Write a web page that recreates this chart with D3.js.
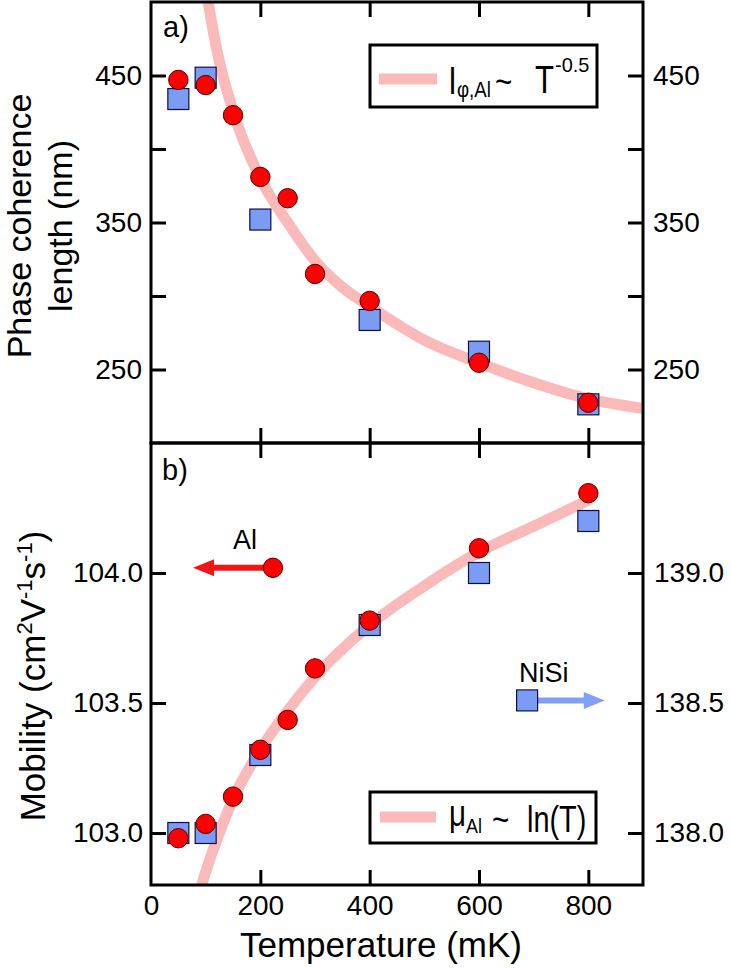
<!DOCTYPE html>
<html><head><meta charset="utf-8">
<script src="https://cdn.jsdelivr.net/npm/d3@7"></script>
<style>html,body{margin:0;padding:0;background:#fff}svg{display:block}text{font-family:Arial,"Liberation Sans",Helvetica,sans-serif}</style>
</head><body>
<svg id="chart" width="731" height="968" font-family="Arial, 'Liberation Sans', Helvetica, sans-serif"></svg>
<script>
// ---------- data ----------
const tempsAl   = [50, 100, 150, 200, 250, 300, 400, 600, 800];          // mK
const tempsNiSi = [50, 100, 200, 400, 600, 800];                          // mK
// panel a: phase coherence length (nm)
const lphiAl   = [447, 443.5, 423, 381, 366.5, 315, 296.6, 254.6, 227.4];
const lphiNiSi = [434, 448.5, 352, 283.7, 262.1, 226.3];
// panel a fit curve  l ~ T^-0.5
const fitATemps = [100, 120, 150, 200, 250, 300, 350, 400, 500, 600, 700, 800, 900];
const fitAVals  = [510, 468, 426, 380, 350, 324, 306, 293, 270, 254.5, 241, 230, 223.5];
// panel b: mobility (cm2 V-1 s-1)
const muAl   = [102.98, 103.035, 103.14, 103.32, 103.435, 103.633, 103.817, 104.095, 104.307]; // left axis
const muNiSi = [138.0, 138.0, 138.3, 138.8, 139.0, 139.2];                                       // right axis
// panel b fit curve  mu ~ ln(T)
const fitBTemps = [90, 100, 125, 150, 200, 250, 300, 400, 500, 600, 700, 800];
const fitBVals  = [102.78, 102.85, 103.0, 103.13, 103.32, 103.47, 103.6, 103.8, 103.95, 104.08, 104.18, 104.28];
// annotation markers (data coordinates)
const annAl   = {T: 223, v: 104.02, arrowTo: 77};     // left axis
const annNiSi = {T: 688, v: 138.51, arrowTo: 830};    // right axis
// ticks
const xTicks      = [0, 200, 400, 600, 800];
const yaTicks     = [250, 300, 350, 400, 450];
const yaLabels    = [250, 350, 450];
const ybTicks     = [103.0, 103.5, 104.0];
const ybRTicks    = [138.0, 138.5, 139.0];

// ---------- layout ----------
const L = 151, R = 643, TOPA = 2, MID = 443, BOT = 885;
const fitColor = "#fbbaba", redFill = "#ff0000", blueFill = "#7b9cf4";
const FONT = "Arial, 'Liberation Sans', Helvetica, sans-serif";
const svg = d3.select("#chart");

const x   = d3.scaleLinear().domain([0, 900]).range([L, R]);
const ya  = d3.scaleLinear().domain([200, 500]).range([MID, TOPA]);
const yb  = d3.scaleLinear().domain([102.8, 104.5]).range([BOT, MID]);
const ybR = d3.scaleLinear().domain([137.8, 139.5]).range([BOT, MID]);

const defs = svg.append("defs");
defs.append("clipPath").attr("id", "clipA").append("rect").attr("x", L).attr("y", TOPA).attr("width", R - L).attr("height", MID - TOPA);
defs.append("clipPath").attr("id", "clipB").append("rect").attr("x", L).attr("y", MID).attr("width", R - L).attr("height", BOT - MID);

function styleAxis(g, fs) {
  g.attr("font-family", FONT).attr("font-size", fs);
  g.select(".domain").remove();
  g.selectAll(".tick line").attr("stroke", "#000").attr("stroke-width", 3);
  g.selectAll(".tick text").attr("fill", "#000");
}

// ---------- axes ----------
svg.append("g").attr("transform", `translate(0,${TOPA})`)
  .call(d3.axisTop(x).tickValues(xTicks.slice(1)).tickSize(-15).tickFormat(""))
  .call(g => styleAxis(g, 28));
svg.append("g").attr("transform", `translate(0,${MID})`)
  .call(d3.axisBottom(x).tickValues(xTicks.slice(1)).tickSize(-15).tickFormat(""))
  .call(g => styleAxis(g, 28));
svg.append("g").attr("transform", `translate(0,${MID})`)
  .call(d3.axisTop(x).tickValues(xTicks.slice(1)).tickSize(-15).tickFormat(""))
  .call(g => styleAxis(g, 28));
svg.append("g").attr("transform", `translate(0,${BOT})`)
  .call(d3.axisBottom(x).tickValues(xTicks).tickSize(-15).tickPadding(10).tickFormat(d3.format("d")))
  .call(g => styleAxis(g, 28))
  .call(g => g.selectAll(".tick").filter(d => d === 0).select("line").remove());

svg.append("g").attr("transform", `translate(${L},0)`)
  .call(d3.axisLeft(ya).tickValues(yaTicks).tickSize(-15).tickPadding(9)
        .tickFormat(d => yaLabels.includes(d) ? d : ""))
  .call(g => styleAxis(g, 28));
svg.append("g").attr("transform", `translate(${R},0)`)
  .call(d3.axisRight(ya).tickValues(yaTicks).tickSize(-15).tickPadding(10)
        .tickFormat(d => yaLabels.includes(d) ? d : ""))
  .call(g => styleAxis(g, 28));
svg.append("g").attr("transform", `translate(${L},0)`)
  .call(d3.axisLeft(yb).tickValues(ybTicks).tickSize(-15).tickPadding(8).tickFormat(d3.format(".1f")))
  .call(g => styleAxis(g, 28));
svg.append("g").attr("transform", `translate(${R},0)`)
  .call(d3.axisRight(ybR).tickValues(ybRTicks).tickSize(-15).tickPadding(11).tickFormat(d3.format(".1f")))
  .call(g => styleAxis(g, 28));

// ---------- panel a ----------
const ga = svg.append("g").attr("clip-path", "url(#clipA)");
ga.append("path")
  .datum(fitATemps.map((t, i) => [t, fitAVals[i]]))
  .attr("fill", "none").attr("stroke", fitColor).attr("stroke-width", 11)
  .attr("d", d3.line().x(d => x(d[0])).y(d => ya(d[1])).curve(d3.curveMonotoneX));

const sq = 21;
svg.append("g").selectAll("rect").data(tempsNiSi.map((t, i) => [t, lphiNiSi[i]])).join("rect")
  .attr("x", d => x(d[0]) - sq / 2).attr("y", d => ya(d[1]) - sq / 2)
  .attr("width", sq).attr("height", sq)
  .attr("fill", blueFill).attr("stroke", "#101040").attr("stroke-width", 1.2);
svg.append("g").selectAll("circle").data(tempsAl.map((t, i) => [t, lphiAl[i]])).join("circle")
  .attr("cx", d => x(d[0])).attr("cy", d => ya(d[1])).attr("r", 9.7)
  .attr("fill", redFill).attr("stroke", "#500000").attr("stroke-width", 1);

// ---------- panel b ----------
const gb = svg.append("g").attr("clip-path", "url(#clipB)");
gb.append("path")
  .datum(fitBTemps.map((t, i) => [t, fitBVals[i]]))
  .attr("fill", "none").attr("stroke", fitColor).attr("stroke-width", 11)
  .attr("d", d3.line().x(d => x(d[0])).y(d => yb(d[1])).curve(d3.curveMonotoneX));

svg.append("g").selectAll("rect").data(tempsNiSi.map((t, i) => [t, muNiSi[i]])).join("rect")
  .attr("x", d => x(d[0]) - sq / 2).attr("y", d => ybR(d[1]) - sq / 2)
  .attr("width", sq).attr("height", sq)
  .attr("fill", blueFill).attr("stroke", "#101040").attr("stroke-width", 1.2);
svg.append("g").selectAll("circle").data(tempsAl.map((t, i) => [t, muAl[i]])).join("circle")
  .attr("cx", d => x(d[0])).attr("cy", d => yb(d[1])).attr("r", 9.7)
  .attr("fill", redFill).attr("stroke", "#500000").attr("stroke-width", 1);

// annotation arrows
function arrow(x1, y, x2, color) {
  const dir = Math.sign(x2 - x1), head = 21, hw = 8.5;
  svg.append("line").attr("x1", x1).attr("y1", y).attr("x2", x2 - dir * head + dir * 2).attr("y2", y)
    .attr("stroke", color).attr("stroke-width", 6);
  svg.append("path").attr("fill", color)
    .attr("d", `M${x2},${y} L${x2 - dir * head},${y - hw} L${x2 - dir * head},${y + hw} Z`);
}
arrow(x(annAl.T), yb(annAl.v), x(annAl.arrowTo), "#f01414");
svg.append("circle").attr("cx", x(annAl.T)).attr("cy", yb(annAl.v)).attr("r", 9.7)
  .attr("fill", redFill).attr("stroke", "#500000").attr("stroke-width", 1);
arrow(x(annNiSi.T), ybR(annNiSi.v), x(annNiSi.arrowTo), "#7fa0f5");
svg.append("rect").attr("x", x(annNiSi.T) - sq / 2).attr("y", ybR(annNiSi.v) - sq / 2)
  .attr("width", sq).attr("height", sq)
  .attr("fill", blueFill).attr("stroke", "#101040").attr("stroke-width", 1.2);
svg.append("text").attr("x", 233).attr("y", 549).attr("font-size", 27).attr("font-family", FONT).text("Al");
svg.append("text").attr("x", 519).attr("y", 682).attr("font-size", 27).attr("font-family", FONT).text("NiSi");

// ---------- frames ----------
svg.append("rect").attr("x", L).attr("y", TOPA).attr("width", R - L).attr("height", MID - TOPA)
  .attr("fill", "none").attr("stroke", "#000").attr("stroke-width", 3);
svg.append("rect").attr("x", L).attr("y", MID).attr("width", R - L).attr("height", BOT - MID)
  .attr("fill", "none").attr("stroke", "#000").attr("stroke-width", 3);

// panel labels
svg.append("text").attr("x", 163).attr("y", 37).attr("font-size", 29).attr("font-family", FONT).text("a)");
svg.append("text").attr("x", 162).attr("y", 480).attr("font-size", 29).attr("font-family", FONT).text("b)");

// ---------- legends ----------
function txt(x0, y0, s, size, sx) {
  svg.append("text").attr("transform", `translate(${x0},${y0}) scale(${sx},1)`)
    .attr("font-family", FONT).attr("font-size", size).text(s);
}
svg.append("rect").attr("x", 370).attr("y", 45).attr("width", 227).attr("height", 62)
  .attr("fill", "#fff").attr("stroke", "#000").attr("stroke-width", 3);
svg.append("line").attr("x1", 379).attr("x2", 437).attr("y1", 79).attr("y2", 79)
  .attr("stroke", fitColor).attr("stroke-width", 11);
txt(449, 94, "l", 37, 0.85);
txt(457, 97, "φ,Al", 22, 0.85);
txt(495, 94, "~", 37, 0.8);
txt(535, 93, "T", 38, 0.82);
txt(555, 72, "-0.5", 21, 0.95);

svg.append("rect").attr("x", 370).attr("y", 792).attr("width", 226).attr("height", 51)
  .attr("fill", "#fff").attr("stroke", "#000").attr("stroke-width", 3);
svg.append("line").attr("x1", 380).attr("x2", 436).attr("y1", 817).attr("y2", 817)
  .attr("stroke", fitColor).attr("stroke-width", 11);
txt(449, 826, "μ", 37, 0.8);
txt(466, 833, "Al", 21, 0.85);
txt(492, 832, "~", 37, 0.8);
txt(527, 832, "ln(T)", 37, 0.78);

// ---------- axis titles ----------
function title(tr, s, fs) {
  return svg.append("text").attr("transform", tr).attr("text-anchor", "middle")
    .attr("font-family", FONT).attr("font-size", fs || 35).text(s);
}
svg.append("text").attr("x", 381).attr("y", 957).attr("text-anchor", "middle")
  .attr("font-family", FONT).attr("font-size", 35).text("Temperature (mK)");
title("translate(31,226) rotate(-90)", "Phase coherence", 34);
title("translate(72,226) rotate(-90)", "length (nm)", 34);
const mob = title("translate(45,676) rotate(-90)", "");
mob.append("tspan").text("Mobility (cm");
mob.append("tspan").attr("font-size", 22).attr("dy", -13).text("2");
mob.append("tspan").attr("dy", 13).text("V");
mob.append("tspan").attr("font-size", 22).attr("dy", -13).text("-1");
mob.append("tspan").attr("dy", 13).text("s");
mob.append("tspan").attr("font-size", 22).attr("dy", -13).text("-1");
mob.append("tspan").attr("dy", 13).text(")");
</script>
</body></html>
